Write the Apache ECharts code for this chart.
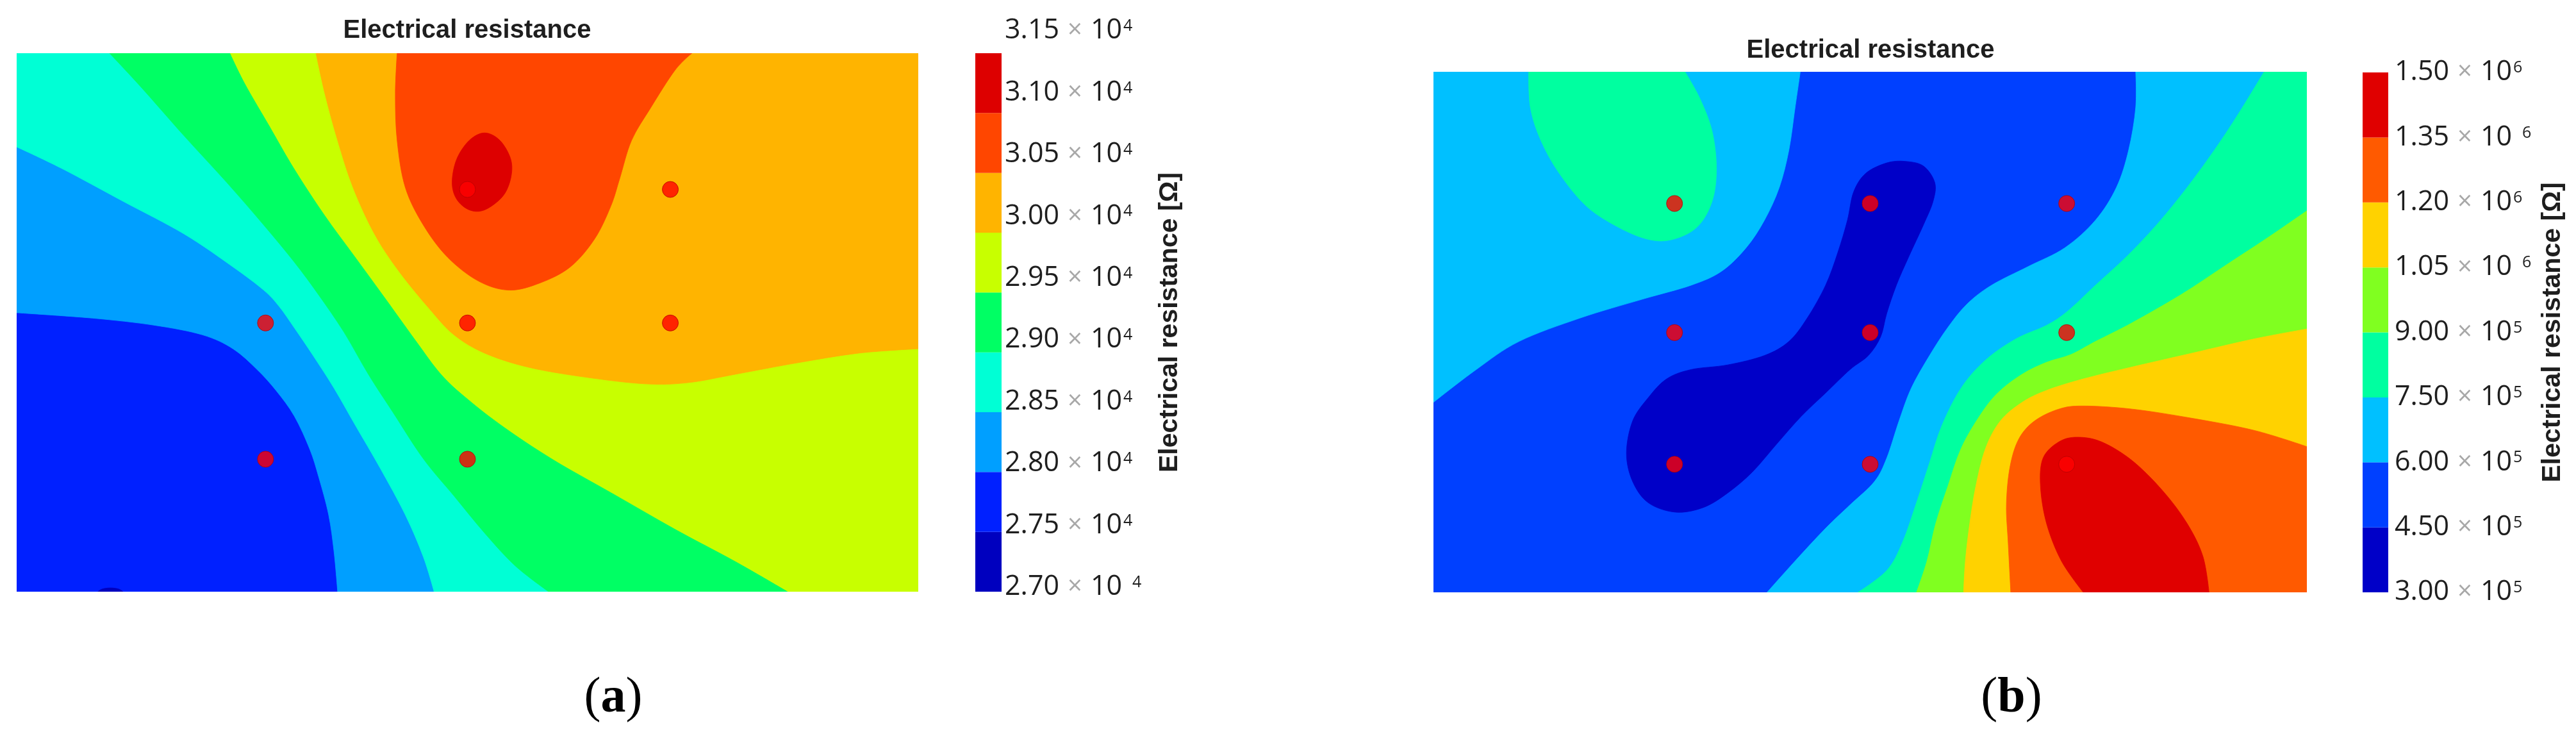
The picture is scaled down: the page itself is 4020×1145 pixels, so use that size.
<!DOCTYPE html>
<html><head><meta charset="utf-8">
<script src="https://cdn.jsdelivr.net/npm/echarts@6/dist/echarts.min.js"></script>
<style>html,body{margin:0;padding:0;background:#fff}#c{width:4020px;height:1145px}</style>
</head><body><div id="c"></div>
<script>
// ================= DATA =================
// contour levels / colour-bar ticks
const levelsA = [27000, 27500, 28000, 28500, 29000, 29500, 30000, 30500, 31000, 31500];
const tickMantA = ['2.70', '2.75', '2.80', '2.85', '2.90', '2.95', '3.00', '3.05', '3.10', '3.15'];
const tickExpA  = ['4', '4', '4', '4', '4', '4', '4', '4', '4', '4'];
const tickGapA  = [true, false, false, false, false, false, false, false, false, false];

const levelsB = [300000, 450000, 600000, 750000, 900000, 1050000, 1200000, 1350000, 1500000];
const tickMantB = ['3.00', '4.50', '6.00', '7.50', '9.00', '1.05', '1.20', '1.35', '1.50'];
const tickExpB  = ['5', '5', '5', '5', '5', '6', '6', '6', '6'];
const tickGapB  = [false, false, false, false, false, true, false, true, false];

// measurement points (x %, y % from top of the map)
const pointsA = [[50, 25.3], [72.5, 25.3], [27.6, 50.1], [50, 50.1], [72.5, 50.1], [27.6, 75.4], [50, 75.4]];
const pointsB = [[27.6, 25.3], [50, 25.3], [72.5, 25.3], [27.6, 50.1], [50, 50.1], [72.5, 50.1], [27.6, 75.4], [50, 75.4], [72.5, 75.4]];

// ---- panel (a) band regions (x %, y %), band index into levelsA ----
const a_full = [[0, 0], [100, 0], [100, 100], [0, 100]];
const a_low = [[9.0, 100], [9.5, 99.5], [10.4, 99.3], [11.3, 99.5], [11.8, 100]];
const a_ge2800 = [[0, 0], [100, 0], [100, 100], [35.6, 100], [35.2, 92.6], [34.6, 85.7], [33.5, 78.7], [32.5, 73.5], [30.8, 67.4], [28.8, 62.7], [26.7, 58.8], [24.0, 54.9], [20.6, 52.3], [15.2, 50.5], [8.4, 49.2], [0, 48.2]];
const a_ge2850 = [[0, 0], [100, 0], [100, 100], [46.3, 100], [45.1, 93.5], [43.1, 85.7], [40.3, 77.0], [37.6, 69.2], [35.2, 62.2], [32.9, 56.2], [30.8, 51.0], [29.1, 47.0], [27.4, 44.0], [24.0, 39.7], [18.6, 33.6], [11.8, 27.5], [5.0, 21.4], [0, 17.4]];
const a_ge2900 = [[10.3, 0], [100, 0], [100, 100], [59.0, 100], [55.3, 95.2], [51.9, 89.1], [48.5, 82.2], [45.1, 75.3], [41.7, 66.6], [39.0, 59.6], [36.3, 51.8], [33.5, 44.9], [30.8, 38.8], [27.4, 31.9], [23.3, 24.0], [18.6, 15.4], [13.8, 6.3]];
const a_ge2950 = [[23.7, 0], [100, 0], [100, 100], [85.6, 100], [79.8, 94.4], [73.0, 88.3], [66.2, 81.8], [59.4, 75.3], [53.9, 69.2], [49.9, 64.0], [47.1, 59.6], [44.4, 53.6], [41.0, 45.7], [37.6, 37.9], [34.2, 30.1], [30.8, 21.4], [28.1, 13.6], [25.4, 5.8]];
const a_ge3000 = [[33.2, 0], [100, 0], [100, 54.9], [93.4, 55.7], [86.6, 57.5], [79.8, 59.6], [74.4, 61.2], [69.6, 61.4], [62.8, 60.1], [56.7, 58.3], [51.9, 55.7], [48.5, 52.3], [45.8, 47.5], [42.4, 40.5], [39.7, 33.6], [37.3, 24.9], [35.6, 16.2], [34.2, 7.6]];
const a_ge3050 = [[42.2, 0], [74.9, 0], [73.0, 3.2], [70.3, 10.2], [68.2, 16.2], [66.9, 23.2], [65.9, 28.4], [64.1, 34.5], [61.4, 39.7], [58.0, 42.7], [54.6, 44.0], [51.2, 42.3], [47.8, 37.9], [45.1, 31.9], [43.1, 24.9], [42.2, 16.2], [42.0, 7.6]];
const a_ge3100 = [[51.9, 14.8], [53.6, 16.2], [54.8, 19.7], [54.8, 23.2], [53.9, 26.6], [51.9, 29.1], [50.2, 29.1], [48.8, 27.1], [48.3, 24.0], [48.8, 19.7], [50.2, 16.2]];

// ---- panel (b) band regions ----
const b_full = [[0, 0], [100, 0], [100, 100], [0, 100]];
const b_lightTL = [[0, 0], [42.0, 0], [41.4, 6.9], [40.7, 15.0], [39.6, 22.2], [37.9, 28.5], [35.8, 33.8], [33.0, 38.3], [29.5, 41.0], [23.9, 43.7], [16.8, 47.3], [9.8, 51.8], [4.9, 57.2], [0, 63.5]];
const b_lightR = [[80.4, 0], [100, 0], [100, 100], [38.2, 100], [41.4, 94.0], [44.9, 87.7], [47.7, 83.2], [50.5, 78.7], [51.9, 74.2], [53.3, 67.1], [54.7, 60.8], [56.8, 54.5], [58.9, 49.1], [61.1, 44.6], [63.9, 41.0], [68.1, 37.4], [72.3, 33.8], [75.8, 28.5], [78.2, 22.2], [79.6, 15.0], [80.4, 6.9]];
const b_aquaTL = [[10.9, 0], [28.8, 0], [30.5, 5.1], [31.9, 11.4], [32.4, 18.6], [31.9, 24.9], [30.2, 29.8], [27.4, 32.2], [24.6, 32.2], [21.1, 29.8], [17.5, 25.8], [14.4, 19.5], [12.3, 13.2], [11.1, 6.9]];
const b_aquaR = [[95.1, 0], [100, 0], [100, 100], [48.6, 100], [51.9, 95.8], [53.7, 90.4], [55.4, 82.3], [56.8, 75.1], [58.2, 68.0], [60.4, 60.8], [63.2, 55.4], [66.7, 51.3], [70.2, 48.7], [72.6, 46.0], [75.8, 41.0], [79.3, 35.6], [82.8, 29.4], [86.3, 22.2], [89.8, 14.1], [92.6, 6.9]];
const b_ge900 = [[100, 26.7], [100, 100], [55.3, 100], [56.5, 94.0], [57.5, 86.8], [58.9, 79.6], [60.4, 72.4], [62.5, 66.2], [64.6, 61.7], [67.4, 58.1], [70.2, 55.8], [73.0, 54.3], [75.8, 51.8], [80.0, 48.2], [85.6, 42.8], [90.5, 37.4], [95.4, 32.0]];
const b_ge1050 = [[100, 49.4], [100, 100], [60.7, 100], [60.9, 94.0], [61.4, 86.8], [62.1, 79.6], [63.2, 72.4], [64.9, 67.1], [67.4, 63.5], [70.2, 61.2], [74.4, 59.0], [80.0, 56.7], [87.0, 54.0], [94.0, 51.3]];
const b_ge1200 = [[100, 72.0], [100, 100], [66.1, 100], [65.8, 90.4], [65.6, 83.2], [66.0, 76.0], [67.0, 70.6], [68.8, 67.1], [71.6, 64.8], [74.4, 64.2], [80.0, 64.8], [87.0, 66.6], [94.0, 68.9]];
const b_ge1350 = [[74.4, 100], [71.9, 94.0], [70.2, 86.8], [69.5, 79.6], [69.8, 74.2], [71.6, 71.1], [73.7, 70.2], [76.5, 71.1], [80.0, 74.7], [83.5, 80.5], [86.3, 86.8], [88.1, 93.1], [88.8, 100]];
const b_low = [[54.0, 17.2], [56.1, 18.1], [57.4, 21.3], [57.2, 24.9], [56.1, 29.4], [54.4, 35.6], [53.0, 41.0], [51.9, 46.4], [51.2, 50.9], [49.8, 54.5], [47.7, 57.2], [44.9, 61.7], [42.1, 66.2], [39.3, 71.5], [36.5, 76.9], [33.7, 80.9], [30.9, 83.7], [27.7, 84.6], [24.6, 82.8], [22.8, 78.7], [22.1, 73.3], [22.8, 67.1], [24.6, 62.6], [26.7, 59.0], [29.5, 57.2], [33.7, 56.3], [37.9, 54.5], [40.7, 51.8], [42.8, 47.3], [44.9, 41.0], [46.3, 34.7], [47.4, 28.5], [48.1, 23.1], [49.5, 19.5], [51.9, 17.5]];

// draw order (painter's) with band index
const regionsA = [
  { band: 1, pts: a_full }, { band: 0, pts: a_low }, { band: 2, pts: a_ge2800 }, { band: 3, pts: a_ge2850 },
  { band: 4, pts: a_ge2900 }, { band: 5, pts: a_ge2950 }, { band: 6, pts: a_ge3000 }, { band: 7, pts: a_ge3050 },
  { band: 8, pts: a_ge3100 }
];
const regionsB = [
  { band: 1, pts: b_full }, { band: 2, pts: b_lightTL }, { band: 2, pts: b_lightR }, { band: 3, pts: b_aquaTL },
  { band: 3, pts: b_aquaR }, { band: 4, pts: b_ge900 }, { band: 5, pts: b_ge1050 }, { band: 6, pts: b_ge1200 },
  { band: 7, pts: b_ge1350 }, { band: 0, pts: b_low }
];

// ================= STYLES =================
const colorsA = ['#0000bf', '#0020ff', '#009fff', '#00ffd5', '#00ff64', '#c8ff00', '#ffb400', '#ff4600', '#dd0000'];
const colorsB = ['#0000c8', '#0040ff', '#00c0ff', '#00ffa0', '#80ff20', '#ffd200', '#ff5a00', '#e00000'];
const TXT = '#1e1e1e';
const SANS = "'Liberation Sans', Arial, sans-serif";
const LBL = "'Open Sans', 'Noto Sans', sans-serif";
const SERIF = "'Liberation Serif', 'Times New Roman', serif";

function smoothPath(api, pts) {
  const P = pts.map(p => api.coord(p));
  const sharp = pts.map(p => p[0] <= 0 || p[0] >= 100 || p[1] <= 0 || p[1] >= 100);
  const n = P.length;
  let d = 'M' + P[0][0] + ' ' + P[0][1];
  for (let i = 0; i < n; i++) {
    const a = P[i], b = P[(i + 1) % n], pr = P[(i - 1 + n) % n], nx = P[(i + 2) % n];
    const sa = sharp[i], sb = sharp[(i + 1) % n];
    const c1 = sa ? a : [a[0] + (b[0] - pr[0]) / 6, a[1] + (b[1] - pr[1]) / 6];
    const c2 = sb ? b : [b[0] - (nx[0] - a[0]) / 6, b[1] - (nx[1] - a[1]) / 6];
    d += ' C' + c1[0] + ' ' + c1[1] + ' ' + c2[0] + ' ' + c2[1] + ' ' + b[0] + ' ' + b[1];
  }
  return d + ' Z';
}

function contourSeries(regions, colors, idx) {
  return {
    type: 'custom', xAxisIndex: idx, yAxisIndex: idx, silent: true, clip: true, z: 1,
    data: regions.map((r, i) => [i, r.band]),
    renderItem: (params, api) => {
      const r = regions[params.dataIndex];
      const c = colors[r.band];
      return { type: 'path', z2: params.dataIndex, shape: { pathData: smoothPath(api, r.pts) },
        style: { fill: c, stroke: c, lineWidth: 0.8 } };
    }
  };
}

function barSeries(levels, colors, idx) {
  return {
    type: 'custom', xAxisIndex: idx, yAxisIndex: idx, silent: true,
    data: levels.slice(0, -1).map((lo, i) => [0, lo, levels[i + 1], i]),
    renderItem: (params, api) => {
      const a = api.coord([0, api.value(2)]);
      const b = api.coord([1, api.value(1)]);
      return { type: 'rect', shape: { x: a[0], y: a[1], width: b[0] - a[0], height: b[1] - a[1] },
        style: { fill: colors[api.value(3)] } };
    }
  };
}

function dotSeries(points, idx) {
  return { type: 'scatter', xAxisIndex: idx, yAxisIndex: idx, data: points, symbol: 'circle', symbolSize: 25, z: 5,
    silent: true, itemStyle: { color: '#ff0000', borderColor: '#b40000', borderWidth: 1 } };
}

const rich = {
  m: { fontFamily: LBL, fontSize: 43, color: TXT, lineHeight: 39 },
  x: { fontFamily: LBL, fontSize: 40, color: '#a8a8a8', lineHeight: 39, padding: [0, 13, 0, 13] },
  s: { fontFamily: LBL, fontSize: 25, color: TXT, lineHeight: 25, verticalAlign: 'top', padding: [0, 0, 0, 2] },
  g: { fontFamily: LBL, fontSize: 25, color: TXT, lineHeight: 25, verticalAlign: 'top', padding: [0, 0, 0, 16] }
};
function tickFmt(levels, mant, exp, gap) {
  return (v) => {
    const i = levels.indexOf(v);
    if (i < 0) return '';
    return '{m|' + mant[i] + '}{x|×}{m|10}{' + (gap[i] ? 'g' : 's') + '|' + exp[i] + '}';
  };
}

const hiddenX = (min, max, gi) => ({ type: 'value', gridIndex: gi, min, max, show: false });
const panelLabel = (letter, cx) => ({
  text: '{p|(}{b|' + letter + '}{p|)}', left: cx, top: 1045, textAlign: 'center', padding: 0,
  textStyle: { fontWeight: 'normal', rich: {
    p: { fontFamily: SERIF, fontWeight: 'normal', fontSize: 78, lineHeight: 90, color: '#000' },
    b: { fontFamily: SERIF, fontWeight: 'bold', fontSize: 78, lineHeight: 90, color: '#000' } } }
});
const nameStyle = { fontFamily: SANS, fontWeight: 'bold', fontSize: 41, color: TXT };

const option = {
  animation: false,
  backgroundColor: '#ffffff',
  title: [
    { text: 'Electrical resistance', left: 729, top: 25, textAlign: 'center', padding: 0,
      textStyle: { fontFamily: SANS, fontWeight: 'bold', fontSize: 40, lineHeight: 46, color: TXT } },
    { text: 'Electrical resistance', left: 2919, top: 56, textAlign: 'center', padding: 0,
      textStyle: { fontFamily: SANS, fontWeight: 'bold', fontSize: 40, lineHeight: 46, color: TXT } },
    panelLabel('a', 957),
    panelLabel('b', 3139)
  ],
  grid: [
    { left: 26, top: 83, width: 1407, height: 840 },
    { left: 1522, top: 83, width: 41, height: 840 },
    { left: 1522, top: 48, width: 41, height: 868 },
    { left: 2237, top: 112, width: 1363, height: 812 },
    { left: 3687, top: 113, width: 40, height: 811 }
  ],
  xAxis: [hiddenX(0, 100, 0), hiddenX(0, 1, 1), hiddenX(0, 1, 2), hiddenX(0, 100, 3), hiddenX(0, 1, 4)],
  yAxis: [
    { type: 'value', gridIndex: 0, min: 0, max: 100, inverse: true, show: false },
    { type: 'value', gridIndex: 1, min: 27000, max: 31500, interval: 500, position: 'right',
      axisLine: { show: false }, axisTick: { show: false }, axisLabel: { show: false }, splitLine: { show: false },
      name: 'Electrical resistance [Ω]', nameLocation: 'middle', nameRotate: 90, nameGap: 242,
      nameTextStyle: nameStyle },
    { type: 'value', gridIndex: 2, min: 27000, max: 31500, interval: 500, position: 'right',
      axisLine: { show: false }, axisTick: { show: false }, splitLine: { show: false },
      axisLabel: { show: true, margin: 5, formatter: tickFmt(levelsA, tickMantA, tickExpA, tickGapA), rich } },
    { type: 'value', gridIndex: 3, min: 0, max: 100, inverse: true, show: false },
    { type: 'value', gridIndex: 4, min: 300000, max: 1500000, interval: 150000, position: 'right',
      axisLine: { show: false }, axisTick: { show: false }, splitLine: { show: false },
      axisLabel: { show: true, margin: 10, formatter: tickFmt(levelsB, tickMantB, tickExpB, tickGapB), rich },
      name: 'Electrical resistance [Ω]', nameLocation: 'middle', nameRotate: 90, nameGap: 236,
      nameTextStyle: nameStyle }
  ],
  series: [
    contourSeries(regionsA, colorsA, 0),
    dotSeries(pointsA, 0),
    barSeries(levelsA, colorsA, 1),
    contourSeries(regionsB, colorsB, 3),
    dotSeries(pointsB, 3),
    barSeries(levelsB, colorsB, 4)
  ]
};

const chart = echarts.init(document.getElementById('c'), null, { renderer: 'canvas' });
chart.setOption(option);
</script></body></html>
